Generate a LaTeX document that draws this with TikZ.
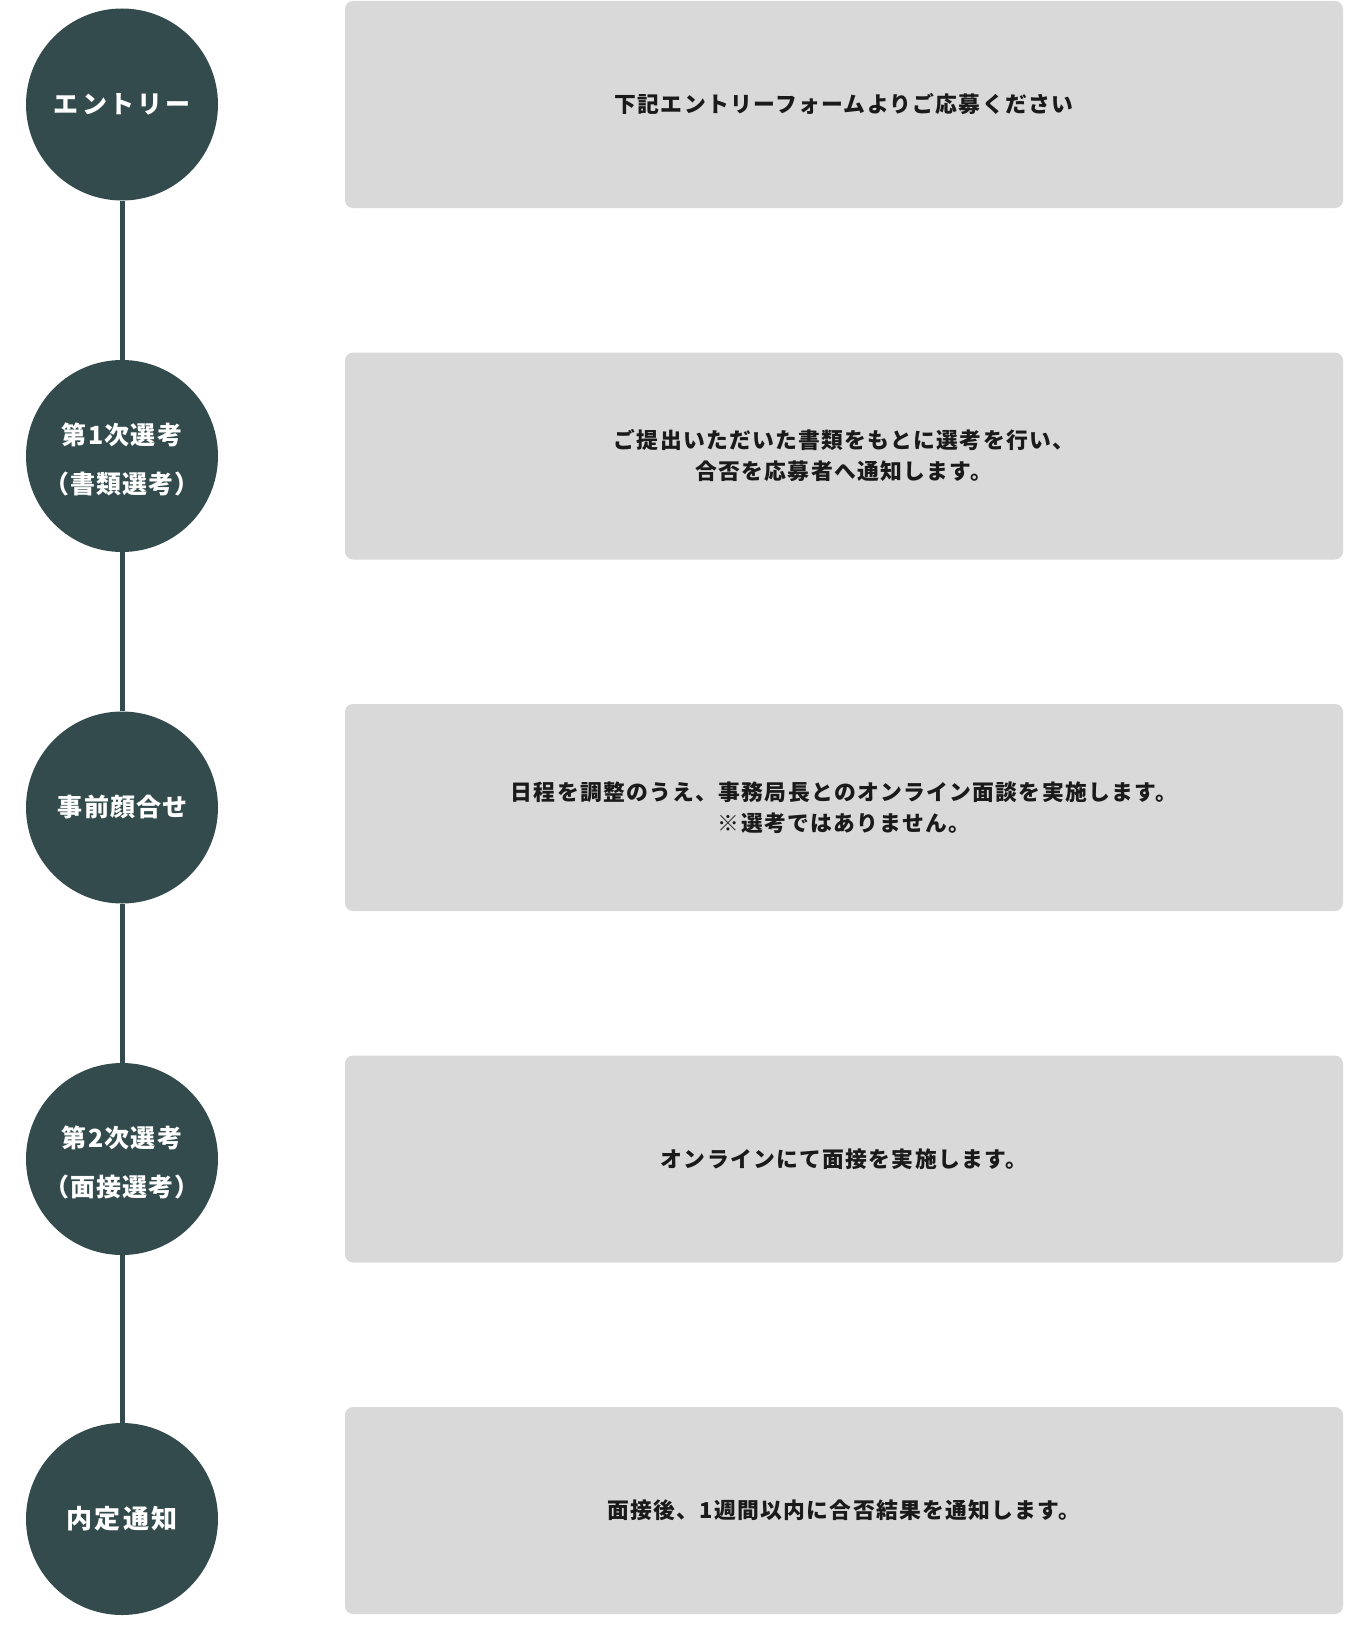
\documentclass[tikz,border=0pt]{standalone}
\usepackage{fontspec}
\newfontfamily\jpfont{Noto Sans CJK JP}
\usepackage{xcolor}
\usetikzlibrary{positioning}
\definecolor{stepcol}{HTML}{344B4E}
\definecolor{boxcol}{HTML}{D9D9D9}
\definecolor{txtcol}{HTML}{1A1A1A}

\begin{document}
\begin{tikzpicture}[
  x=1pt,y=-1pt,
  stage/.style={circle,fill=stepcol,text=white,inner sep=0pt,minimum size=192pt,align=center,
    font={\jpfont\bfseries\addfontfeature{LetterSpace=5,RawFeature=+palt}\fontsize{25}{50}\selectfont}},
  info/.style={rectangle,fill=boxcol,text=txtcol,rounded corners=8pt,inner sep=0pt,minimum width=998pt,minimum height=207pt,align=center,
    font={\jpfont\bfseries\addfontfeature{LetterSpace=6}\fontsize{21.8}{31}\selectfont}},
  link/.style={draw=stepcol,line width=5pt}
]
\useasboundingbox (0,0) rectangle (1366,1632);
\node[stage] (entry) at (122,104.5) {{\addfontfeature{LetterSpace=22}エントリー}};
\node[stage] (first) at (122,456) {\raisebox{-3.5pt}[\height][\depth]{\shortstack{第1次選考\\[21.5pt]（書類選考）}}};
\node[stage] (meet) at (122,807.5) {事前顔合せ};
\node[stage] (second) at (122,1159) {\raisebox{-3.5pt}[\height][\depth]{\shortstack{第2次選考\\[21.5pt]（面接選考）}}};
\node[stage] (offer) at (122,1519) {{\addfontfeature{LetterSpace=10}\fontsize{26}{50}\selectfont 内定通知}};
\node[info] (entrytxt) at (844,104.5) {下記エントリーフォームよりご応募ください};
\node[info] (firsttxt) at (844,456) {ご提出いただいた書類をもとに選考を行い、\\合否を応募者へ通知します。};
\node[info] (meettxt) at (844,807.5) {日程を調整のうえ、事務局長とのオンライン面談を実施します。\\※選考ではありません。};
\node[info] (secondtxt) at (844,1159) {オンラインにて面接を実施します。};
\node[info] (offertxt) at (844,1510.5) {面接後、1週間以内に合否結果を通知します。};
\draw[link] (entry) -- (first);
\draw[link] (first) -- (meet);
\draw[link] (meet) -- (second);
\draw[link] (second) -- (offer);
\end{tikzpicture}
\end{document}
